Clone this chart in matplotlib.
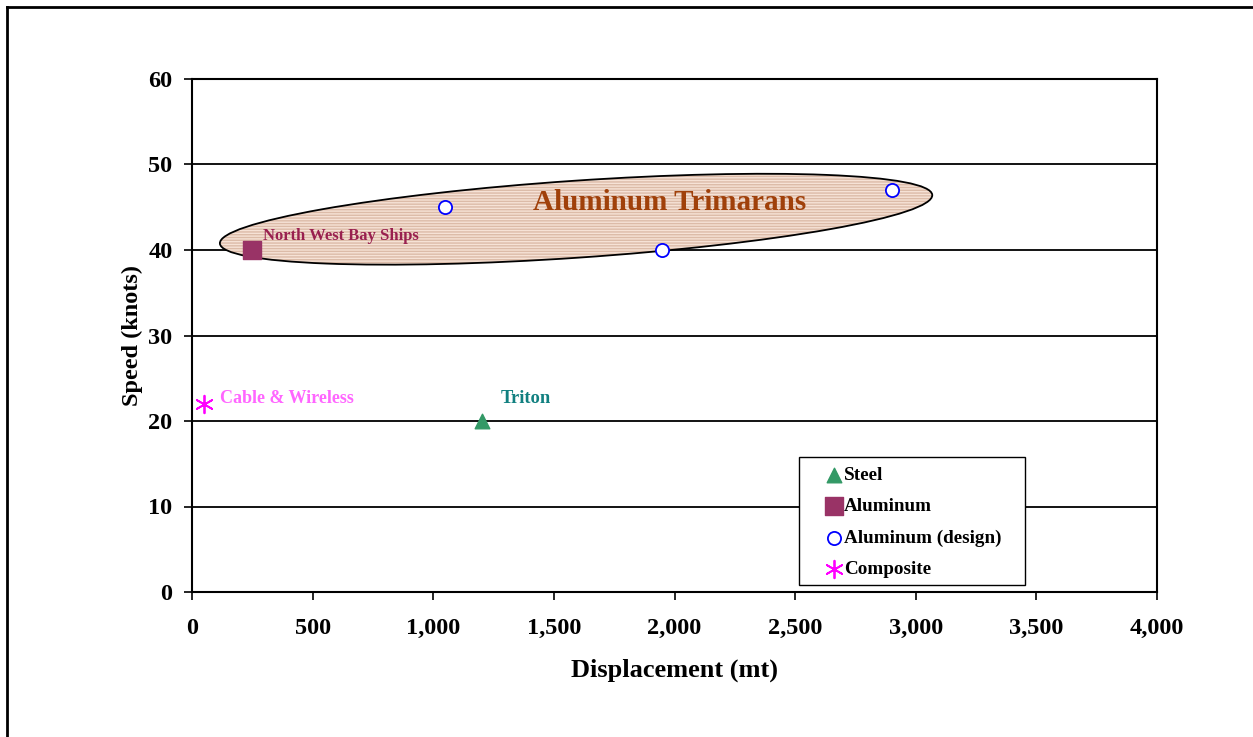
import matplotlib
matplotlib.use("Agg")
import matplotlib.pyplot as plt
from matplotlib.patches import Ellipse, Rectangle
from matplotlib.lines import Line2D
from matplotlib.ticker import FuncFormatter
import matplotlib.transforms as mtransforms

# Data
steel_x = [1200]; steel_y = [20]
alu_x = [250]; alu_y = [40]
design_x = [1050, 1950, 2900]; design_y = [45, 40, 47]
comp_x = [50]; comp_y = [22]
series_labels = ["Steel", "Aluminum", "Aluminum (design)", "Composite"]
x_ticks = [0, 500, 1000, 1500, 2000, 2500, 3000, 3500, 4000]
y_ticks = [0, 10, 20, 30, 40, 50, 60]

plt.rcParams['font.family'] = ['Liberation Serif', 'DejaVu Serif']
plt.rcParams['font.weight'] = 'bold'

fig = plt.figure(figsize=(12.53, 7.37), dpi=100)
ax = fig.add_axes([192/1253, 1-592/737, 965/1253, 513/737])
ax.set_xlim(0, 4000)
ax.set_ylim(0, 60)
ax.set_xticks(x_ticks)
ax.set_yticks(y_ticks)
ax.xaxis.set_major_formatter(FuncFormatter(lambda v, p: f"{int(v):,}"))
ax.tick_params(axis='both', direction='out', length=6, width=1.2, labelsize=17.5)
ax.tick_params(axis='x', pad=13)
ax.tick_params(axis='y', pad=8)
for lbl in ax.get_xticklabels() + ax.get_yticklabels():
    lbl.set_fontweight('bold')
for s in ax.spines.values():
    s.set_linewidth(1.5)
for yv in y_ticks[1:-1]:
    ax.axhline(yv, color='black', lw=1.3, zorder=1)

# Ellipse annotation
trans = fig.dpi_scale_trans + mtransforms.ScaledTranslation(1592, 43.6, ax.transData)
ell_fill = Ellipse((0, 0), 7.14, 0.77, angle=3.9, transform=trans,
                   facecolor='#f6e2d6', edgecolor='#dcbba8', hatch='------', lw=0, zorder=2)
ell_edge = Ellipse((0, 0), 7.14, 0.77, angle=3.9, transform=trans,
                   facecolor='none', edgecolor='black', lw=1.3, zorder=3)
ax.add_patch(ell_fill)
ax.add_patch(ell_edge)

ax.scatter(steel_x, steel_y, marker='^', s=110, color='#339966', zorder=5, label=series_labels[0])
ax.scatter(alu_x, alu_y, marker='s', s=160, color='#993366', zorder=5, label=series_labels[1])
ax.scatter(design_x, design_y, marker='o', s=90, facecolor='white', edgecolor='#0000ff', linewidths=1.3, zorder=5, label=series_labels[2])
ax.scatter(comp_x, comp_y, marker=(6, 2, 0), s=160, color='#ff00ff', linewidths=1.3, zorder=5, label=series_labels[3])

ax.text(1981, 45.6, "Aluminum Trimarans", color='#a0400a', fontsize=21, fontweight='bold', ha='center', va='center', zorder=6)
ax.text(294, 41.6, "North West Bay Ships", color='#99204f', fontsize=12, fontweight='bold', ha='left', va='center', zorder=6)
ax.text(116, 22.6, "Cable & Wireless", color='#ff66ff', fontsize=13, fontweight='bold', ha='left', va='center', zorder=6)
ax.text(1281, 22.6, "Triton", color='#118080', fontsize=13.3, fontweight='bold', ha='left', va='center', zorder=6)

ax.set_xlabel("Displacement (mt)", fontsize=19, fontweight='bold', labelpad=14)
ax.set_ylabel("Speed (knots)", fontsize=17.5, fontweight='bold', labelpad=4)

# Legend box drawn separately for wider side padding
box = Rectangle((0.629, 0.0136), 0.8632 - 0.629, 0.263 - 0.0136, transform=ax.transAxes,
                facecolor='white', edgecolor='black', lw=1.0, zorder=7)
ax.add_patch(box)
leg = ax.legend(loc='upper left', bbox_to_anchor=(0.657, 0.245), frameon=False,
                prop={'weight': 'bold', 'size': 13.8},
                handlelength=0.8, handletextpad=0.15, labelspacing=0.73, borderpad=0, borderaxespad=0)
leg.set_zorder(8)

# figure border
fig.add_artist(Line2D([7/1253, 7/1253], [0, 1-7/737], transform=fig.transFigure, color='black', lw=2))
fig.add_artist(Line2D([7/1253, 1], [1-7/737, 1-7/737], transform=fig.transFigure, color='black', lw=2))

fig.savefig("out.png", dpi=100)
